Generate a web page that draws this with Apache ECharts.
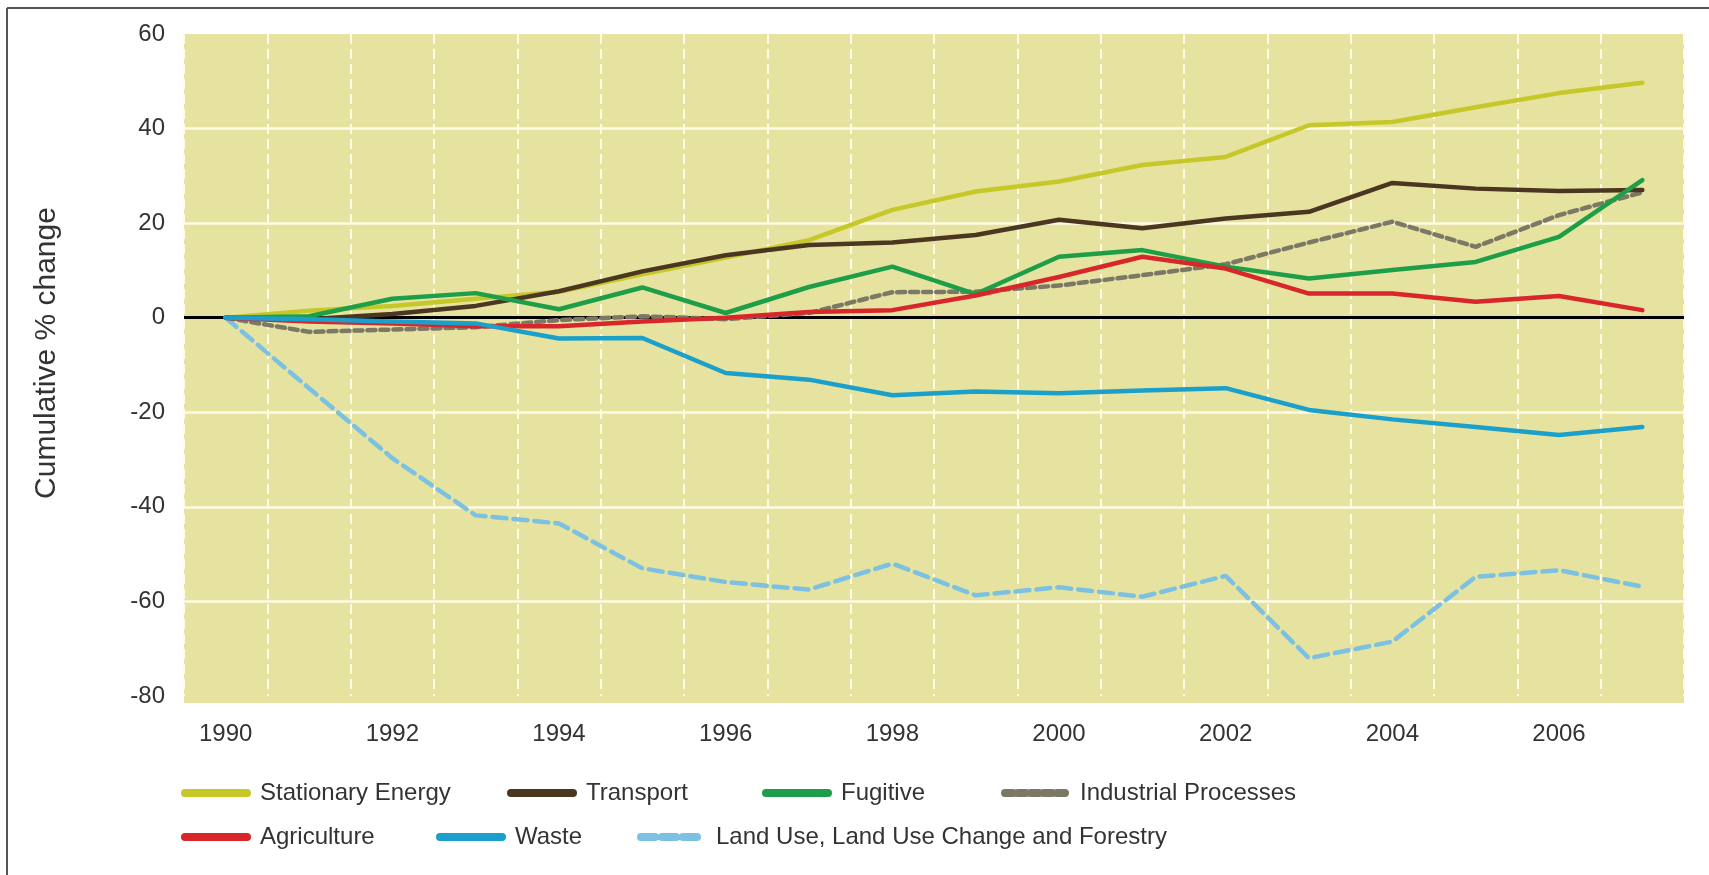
<!DOCTYPE html>
<html>
<head>
<meta charset="utf-8">
<script src="https://cdn.jsdelivr.net/npm/echarts@6/dist/echarts.min.js"></script>
<style>
html,body{margin:0;padding:0;background:#ffffff;}
#chart{width:1709px;height:875px;}
</style>
</head>
<body>
<div id="chart"></div>
<script>
const years = ['1990','1991','1992','1993','1994','1995','1996','1997','1998','1999','2000','2001','2002','2003','2004','2005','2006','2007'];
const stationaryEnergy = [0, 1.5, 2.5, 4, 5.5, 9.2, 12.7, 16.4, 22.8, 26.7, 28.8, 32.3, 34, 40.7, 41.4, 44.5, 47.5, 49.7];
const transport = [0, -0.3, 0.8, 2.5, 5.6, 9.8, 13.2, 15.4, 15.9, 17.5, 20.7, 18.9, 21, 22.4, 28.5, 27.3, 26.8, 27];
const fugitive = [0, 0.3, 4, 5.2, 1.8, 6.4, 1, 6.5, 10.8, 5, 12.9, 14.3, 10.8, 8.3, 10.1, 11.8, 17.1, 29.1];
const industrialProcesses = [0, -3, -2.5, -2, -0.5, 0.3, -0.3, 1, 5.4, 5.5, 6.8, 9, 11.3, 15.9, 20.3, 15, 21.7, 26.5];
const agriculture = [0, -0.8, -1.2, -1.8, -1.8, -0.8, 0, 1.2, 1.6, 4.7, 8.6, 12.9, 10.4, 5.1, 5.1, 3.4, 4.6, 1.6];
const waste = [0, -0.3, -0.8, -1.2, -4.4, -4.3, -11.7, -13.1, -16.4, -15.6, -16, -15.4, -14.9, -19.5, -21.5, -23.1, -24.8, -23.1];
const lulucf = [0, -14.9, -29.7, -41.8, -43.5, -53, -55.9, -57.5, -52, -58.7, -57, -59, -54.6, -72, -68.5, -54.8, -53.4, -56.9];
const yTicks = {min: -80, max: 60, interval: 20};
const yAxisTitle = 'Cumulative % change';
const names = ['Stationary Energy','Transport','Fugitive','Industrial Processes','Agriculture','Waste','Land Use, Land Use Change and Forestry'];

const FONT = "'Liberation Sans', Arial, sans-serif";
const BG = '#e5e39f';
const GRIDC = '#fffbe4';

const chart = echarts.init(document.getElementById('chart'), null, {renderer: 'canvas'});

function lineSeries(name, data, color, z, dash) {
  return {
    name: name, type: 'line', data: data, z: z,
    symbol: 'none', smooth: false,
    lineStyle: {color: color, width: 4.5, type: dash || 'solid', cap: 'round', join: 'round'},
    itemStyle: {color: color},
    emphasis: {disabled: true}
  };
}

function legendAt(name, left, top) {
  return {
    data: [name], left: left, top: top, orient: 'horizontal', padding: 0,
    itemWidth: 62, itemHeight: 16, selectedMode: false,
    lineStyle: {width: 8},
    itemStyle: {opacity: 0},
    textStyle: {fontFamily: FONT, fontSize: 24, color: '#333', padding: [0, 0, 0, 8]}
  };
}

const series = [
  lineSeries(names[6], lulucf, '#7cc1e1', 10, [14, 7]),
  lineSeries(names[3], industrialProcesses, '#7b7866', 11, [8, 5]),
  lineSeries(names[0], stationaryEnergy, '#c6c82a', 12),
  lineSeries(names[1], transport, '#4b3621', 13),
  lineSeries(names[2], fugitive, '#1e9e48', 14),
  lineSeries(names[4], agriculture, '#d8262b', 15),
  lineSeries(names[5], waste, '#1b9fcb', 16)
];
series[0].markLine = {
  silent: true, symbol: 'none', z: 3, label: {show: false},
  lineStyle: {color: '#000', width: 3, type: 'solid'},
  data: [{yAxis: 0}]
};

chart.setOption({
  animation: false,
  backgroundColor: '#ffffff',
  textStyle: {fontFamily: FONT},
  grid: {left: 184, right: 25, top: 34, bottom: 179, show: true, backgroundColor: BG, borderWidth: 0},
  xAxis: {
    type: 'category', data: years, boundaryGap: true,
    axisLine: {show: false}, axisTick: {show: false},
    axisLabel: {interval: 1, fontSize: 24, color: '#333', margin: 26, fontFamily: FONT},
    splitLine: {show: true, interval: 0, lineStyle: {color: GRIDC, width: 2, type: [10, 5]}}
  },
  yAxis: {
    type: 'value', min: yTicks.min, max: yTicks.max, interval: yTicks.interval,
    axisLine: {show: false}, axisTick: {show: false},
    axisLabel: {fontSize: 24, color: '#333', margin: 19, fontFamily: FONT},
    splitLine: {show: true, showMinLine: false, showMaxLine: false, lineStyle: {color: GRIDC, width: 2.5, type: 'solid'}},
    name: yAxisTitle, nameLocation: 'middle', nameRotate: 90, nameGap: 122,
    nameTextStyle: {fontSize: 30, color: '#333', fontFamily: FONT, padding: [0, 0, 0, 24]}
  },
  legend: [
    legendAt(names[0], 181, 781),
    legendAt(names[1], 507, 781),
    legendAt(names[2], 762, 781),
    legendAt(names[3], 1001, 781),
    legendAt(names[4], 181, 825),
    legendAt(names[5], 436, 825),
    legendAt(names[6], 637, 825)
  ],
  graphic: [
    {type: 'rect', shape: {x: 184, y: 696, width: 1500, height: 7}, style: {fill: BG}, silent: true, z: 0},
    {type: 'line', shape: {x1: 7, y1: 8, x2: 1709, y2: 8}, style: {stroke: '#555', lineWidth: 2}, silent: true},
    {type: 'line', shape: {x1: 7, y1: 8, x2: 7, y2: 875}, style: {stroke: '#555', lineWidth: 2}, silent: true}
  ],
  series: series
});
</script>
</body>
</html>
